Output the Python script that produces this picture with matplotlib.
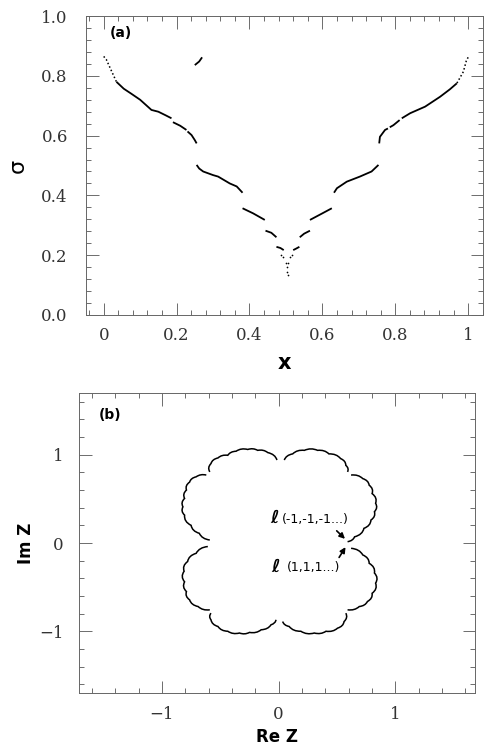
import matplotlib
matplotlib.use('Agg')
import matplotlib.pyplot as plt
from matplotlib.path import Path
from matplotlib.patches import PathPatch
from matplotlib.ticker import MultipleLocator
import numpy as np

# ---- panel (a): sigma vs x, branch pieces ----
tip_left_x = [0.0, 0.007, 0.02, 0.035]
tip_left_y = [0.865, 0.855, 0.82, 0.78]
tip_right_x = [1.0, 0.995, 0.987, 0.969]
tip_right_y = [0.862, 0.85, 0.814, 0.775]

sigma_segments = [
    # left branch
    ([0.035, 0.055, 0.076, 0.10, 0.131, 0.15, 0.17, 0.186],
     [0.78, 0.757, 0.74, 0.72, 0.686, 0.68, 0.668, 0.658]),
    ([0.19, 0.21, 0.227], [0.645, 0.633, 0.619]),
    ([0.23, 0.241, 0.25, 0.255], [0.614, 0.602, 0.585, 0.574]),
    ([0.255, 0.262, 0.273, 0.30, 0.314, 0.346, 0.365, 0.381],
     [0.502, 0.49, 0.48, 0.468, 0.463, 0.44, 0.43, 0.409]),
    ([0.381, 0.41, 0.442], [0.357, 0.34, 0.318]),
    ([0.444, 0.46, 0.474], [0.282, 0.275, 0.26]),
    ([0.474, 0.485, 0.494], [0.228, 0.224, 0.217]),
    # right branch
    ([0.969, 0.95, 0.923, 0.882, 0.841, 0.818],
     [0.775, 0.755, 0.73, 0.697, 0.675, 0.658]),
    ([0.812, 0.795, 0.785], [0.652, 0.635, 0.628]),
    ([0.78, 0.772, 0.758, 0.756], [0.624, 0.619, 0.596, 0.574]),
    ([0.754, 0.735, 0.703, 0.667, 0.64, 0.632],
     [0.502, 0.48, 0.463, 0.446, 0.424, 0.409]),
    ([0.626, 0.6, 0.566], [0.357, 0.34, 0.318]),
    ([0.566, 0.55, 0.538], [0.282, 0.272, 0.26]),
    ([0.537, 0.528, 0.52], [0.228, 0.222, 0.217]),
    # isolated piece near top
    ([0.25, 0.262, 0.27], [0.836, 0.848, 0.862]),
]
dots_x = [0.487, 0.493, 0.516, 0.51, 0.499, 0.506, 0.502, 0.504, 0.505]
dots_y = [0.2, 0.195, 0.2, 0.195, 0.175, 0.175, 0.16, 0.145, 0.134]

a_xticks = [0, 0.2, 0.4, 0.6, 0.8, 1.0]
a_xticklabels = ['0', '0.2', '0.4', '0.6', '0.8', '1']
a_yticks = [0, 0.2, 0.4, 0.6, 0.8, 1.0]
a_yticklabels = ['0.0', '0.2', '0.4', '0.6', '0.8', '1.0']

# ---- panel (b): scalloped boundary in the complex plane ----
# arcs as (Re, Im) lists, cusp points between scallops
arc_top_left = [(-0.015, 0.94), (-0.094, 1.025), (-0.18, 1.05), (-0.265, 1.06),
                (-0.365, 1.04), (-0.436, 0.994), (-0.52, 0.964), (-0.58, 0.9), (-0.59, 0.806)]
arc_left_up = [(-0.62, 0.77), (-0.707, 0.75), (-0.763, 0.69), (-0.79, 0.6), (-0.806, 0.505),
               (-0.82, 0.41), (-0.806, 0.316), (-0.75, 0.2), (-0.68, 0.11), (-0.59, 0.034)]
arc_top_right = [(0.048, 0.94), (0.12, 1.01), (0.22, 1.05), (0.333, 1.05), (0.43, 1.01),
                 (0.53, 0.957), (0.575, 0.88), (0.59, 0.806)]
arc_right_up = [(0.62, 0.77), (0.72, 0.73), (0.775, 0.655), (0.80, 0.56), (0.83, 0.45),
                (0.82, 0.355), (0.79, 0.26), (0.73, 0.166), (0.65, 0.07), (0.59, 0.015)]
arc_left_low = [(-0.607, -0.04), (-0.707, -0.117), (-0.78, -0.21), (-0.81, -0.32),
                (-0.806, -0.44), (-0.79, -0.55), (-0.763, -0.644), (-0.69, -0.72), (-0.59, -0.757)]
arc_bottom_left = [(-0.58, -0.795), (-0.58, -0.87), (-0.52, -0.946), (-0.436, -1.0),
                   (-0.336, -1.02), (-0.25, -1.013), (-0.15, -0.983), (-0.066, -0.927), (-0.023, -0.87)]
arc_bottom_right = [(0.034, -0.89), (0.09, -0.946), (0.19, -1.0), (0.305, -1.02), (0.405, -1.0),
                    (0.504, -0.965), (0.56, -0.89), (0.575, -0.795)]
arc_right_low = [(0.59, -0.757), (0.69, -0.72), (0.76, -0.663), (0.80, -0.57), (0.83, -0.455),
                 (0.82, -0.34), (0.775, -0.23), (0.72, -0.135), (0.62, -0.06)]

upper_arcs = [arc_top_left, arc_left_up, arc_top_right, arc_right_up]
lower_arcs = [arc_left_low, arc_bottom_left, arc_bottom_right, arc_right_low]

b_ticks = [-1, 0, 1]
b_ticklabels = ['\u22121', '0', '1']

label_upper = "(-1,-1,-1...)"
label_lower = "(1,1,1...)"

fig = plt.figure(figsize=(4.85, 7.51), dpi=100)
ax1 = fig.add_axes([0.177, 0.5806, 0.819, 0.398])
ax2 = fig.add_axes([0.163, 0.0772, 0.816, 0.3995])


def style_axes(ax, minor, xpad, ypad):
    ax.xaxis.set_minor_locator(MultipleLocator(minor[0]))
    ax.yaxis.set_minor_locator(MultipleLocator(minor[1]))
    ax.tick_params(which='both', direction='in', top=True, right=True, color='#555555', width=0.6)
    ax.tick_params(which='major', length=9)
    ax.tick_params(which='minor', length=3.5)
    ax.tick_params(axis='x', which='major', pad=xpad)
    ax.tick_params(axis='y', which='major', pad=ypad)
    for lab in ax.get_xticklabels() + ax.get_yticklabels():
        lab.set_fontfamily('DejaVu Serif')
        lab.set_fontsize(12)
        lab.set_color('#333333')
    for sp in ax.spines.values():
        sp.set_linewidth(0.7)
        sp.set_color('#666666')


# panel (a)
ax1.plot(tip_left_x, tip_left_y, color='black', lw=1.1, ls=(0, (1, 1.5)))
ax1.plot(tip_right_x, tip_right_y, color='black', lw=1.1, ls=(0, (1, 1.5)))
for sx, sy in sigma_segments:
    ax1.plot(sx, sy, color='black', lw=1.3, solid_capstyle='butt')
ax1.scatter(dots_x, dots_y, s=1.5, color='black', lw=0)
ax1.set_xlim(-0.049, 1.041)
ax1.set_ylim(0, 1.0)
ax1.set_xticks(a_xticks)
ax1.set_xticklabels(a_xticklabels)
ax1.set_yticks(a_yticks)
ax1.set_yticklabels(a_yticklabels)
style_axes(ax1, (0.04, 0.04), 9, 13)
ax1.set_xlabel('x', fontsize=15, fontweight='bold', labelpad=6)
ax1.set_ylabel('σ', fontsize=16, labelpad=10)
ax1.text(0.016, 0.93, '(a)', fontsize=10, fontweight='bold')


# panel (b): each pair of cusp points joined by a small outward bump
def scallop_path(points, centre):
    verts, codes = [points[0]], [Path.MOVETO]
    for (x0, y0), (x1, y1) in zip(points[:-1], points[1:]):
        mx, my = (x0 + x1) / 2, (y0 + y1) / 2
        dx, dy = x1 - x0, y1 - y0
        nx, ny = dy, -dx
        if nx * (mx - centre[0]) + ny * (my - centre[1]) < 0:
            nx, ny = -nx, -ny
        verts += [(mx + 0.3 * nx, my + 0.3 * ny), (x1, y1)]
        codes += [Path.CURVE3, Path.CURVE3]
    return Path(verts, codes)


for arc in upper_arcs:
    ax2.add_patch(PathPatch(scallop_path(arc, (0.02, 0.5)), fill=False, lw=1.1, ec='black'))
for arc in lower_arcs:
    ax2.add_patch(PathPatch(scallop_path(arc, (0.02, -0.5)), fill=False, lw=1.1, ec='black'))

ax2.set_xlim(-1.71, 1.68)
ax2.set_ylim(-1.7, 1.7)
ax2.set_xticks(b_ticks)
ax2.set_xticklabels(b_ticklabels)
ax2.set_yticks(b_ticks)
ax2.set_yticklabels(b_ticklabels)
style_axes(ax2, (0.2, 0.2), 9, 11)
ax2.set_xlabel('Re Z', fontsize=12, fontweight='bold', labelpad=4)
ax2.set_ylabel('Im Z', fontsize=12, fontweight='bold', labelpad=3)
ax2.text(-1.54, 1.4, '(b)', fontsize=10, fontweight='bold')

ax2.text(-0.07, 0.28, 'ℓ', fontsize=13, fontweight='bold', va='center', ha='left')
ax2.text(0.03, 0.27, label_upper, fontsize=9, va='center', ha='left')
ax2.text(-0.06, -0.27, 'ℓ', fontsize=13, fontweight='bold', va='center', ha='left')
ax2.text(0.07, -0.28, label_lower, fontsize=9, va='center', ha='left')
ax2.annotate('', xy=(0.585, 0.025), xytext=(0.48, 0.16),
             arrowprops=dict(arrowstyle='-|>', color='black', lw=1.2, mutation_scale=8))
ax2.annotate('', xy=(0.585, -0.02), xytext=(0.505, -0.19),
             arrowprops=dict(arrowstyle='-|>', color='black', lw=1.2, mutation_scale=8))

fig.savefig('out.png', dpi=100)
